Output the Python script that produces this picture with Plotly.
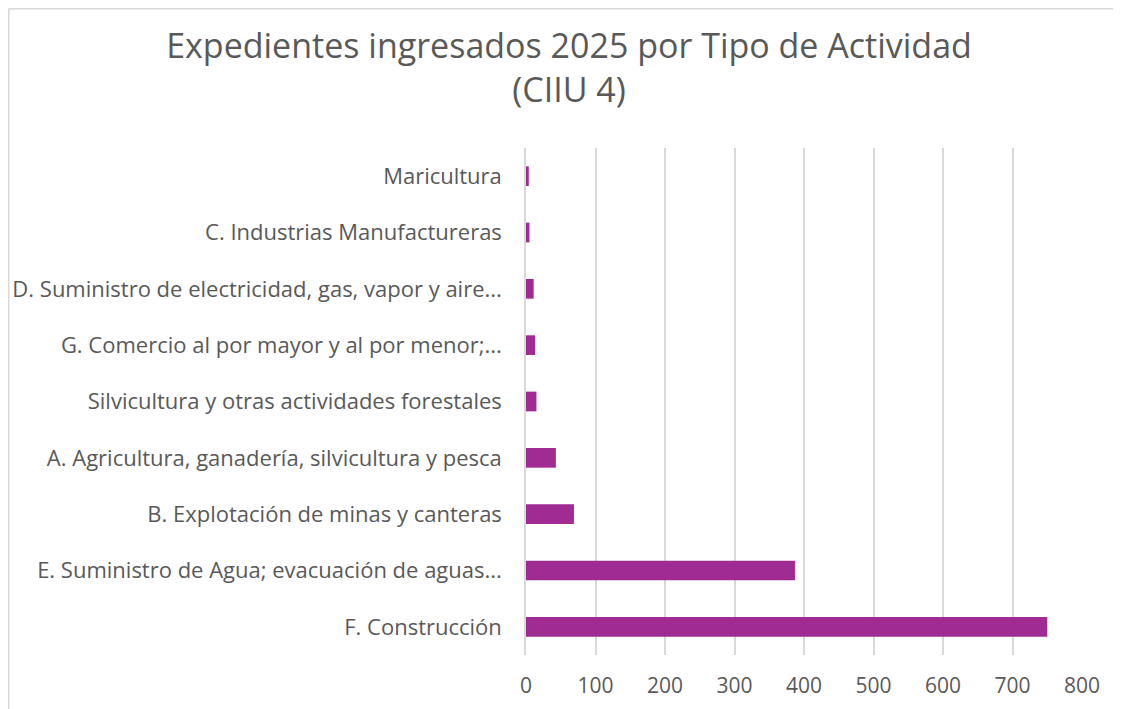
import plotly.graph_objects as go

categories = [
    "Maricultura",
    "C. Industrias Manufactureras",
    "D. Suministro de electricidad, gas, vapor y aire...",
    "G. Comercio al por mayor y al por menor;...",
    "Silvicultura y otras actividades forestales",
    "A. Agricultura, ganadería, silvicultura y pesca",
    "B. Explotación de minas y canteras",
    "E. Suministro de Agua; evacuación de aguas...",
    "F. Construcción",
]
values = [4, 5, 11, 13, 15, 43, 69, 387, 750]
x_ticks = [0, 100, 200, 300, 400, 500, 600, 700, 800]

W, H = 1121, 709
OFF = 8  # page body margin offset
ML, MT = 526 - OFF, 148 - OFF
pw, ph = 556, 507
MR, MB = W - ML - pw, H - MT - ph

FONT = "Open Sans"
GREY = "#595959"

fig = go.Figure(go.Bar(
    x=values, y=categories, orientation="h",
    marker=dict(color="#A02B93", line=dict(width=0)),
))

fig.update_layout(
    width=W, height=H,
    margin=dict(l=ML, r=MR, t=MT, b=MB, autoexpand=False),
    paper_bgcolor="white", plot_bgcolor="white",
    bargap=0.65,
    showlegend=False,
    font=dict(family=FONT, color=GREY, size=21),
    title=dict(
        text="Expedientes ingresados 2025 por Tipo de Actividad<br>(CIIU 4)",
        x=(569 - OFF) / W, xanchor="center", y=1 - 50 / H, yanchor="top",
        font=dict(family=FONT, size=34, color=GREY),
    ),
    xaxis=dict(
        range=[0, 800], tickvals=x_ticks, showgrid=True, gridcolor="#D9D9D9",
        gridwidth=1.5, zeroline=False, showline=False, ticks="", ticklabelstandoff=16,
        tickfont=dict(size=21, color=GREY), fixedrange=True, automargin=False,
    ),
    yaxis=dict(
        autorange="reversed", showgrid=False, zeroline=False,
        showline=True, linecolor="#D9D9D9", linewidth=1.5, ticks="",
        ticklabelstandoff=18, tickfont=dict(size=22, color=GREY), automargin=False,
    ),
    shapes=[
        dict(type="line", xref="paper", yref="paper",
             x0=(0.75 - ML) / pw, x1=(W - ML) / pw,
             y0=1 + (MT - 0.75) / ph, y1=1 + (MT - 0.75) / ph,
             line=dict(color="#D9D9D9", width=1.5)),
        dict(type="line", xref="paper", yref="paper",
             x0=(0.75 - ML) / pw, x1=(0.75 - ML) / pw,
             y0=1 + (MT - 0.75) / ph, y1=-MB / ph,
             line=dict(color="#D9D9D9", width=1.5)),
    ],
)

fig.write_html("out.html")
